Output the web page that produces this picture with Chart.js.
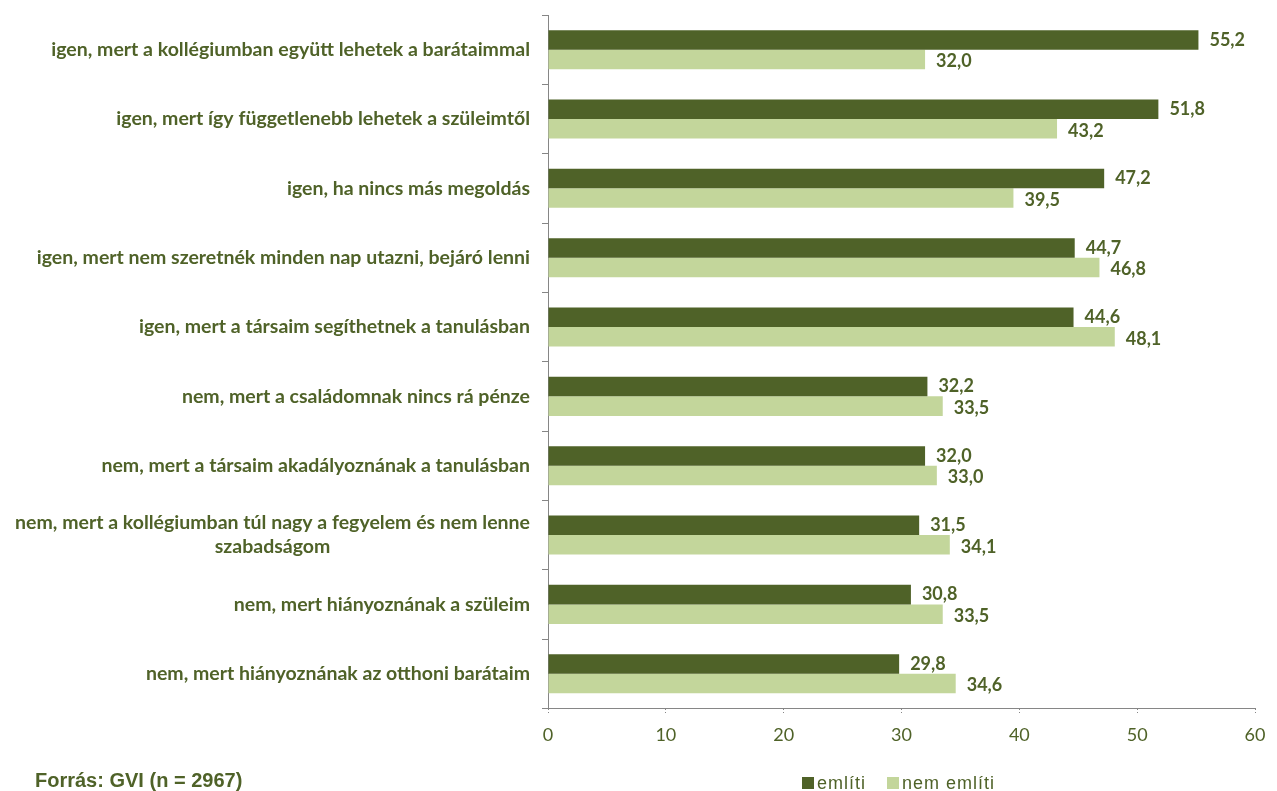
<!DOCTYPE html>
<html>
<head>
<meta charset="utf-8">
<script src="https://cdn.jsdelivr.net/npm/chart.js@4.4.1/dist/chart.umd.min.js"></script>
<style>
  html, body { margin: 0; padding: 0; background: #fff; }
  #wrap { width: 1277px; height: 791px; position: relative; }
</style>
</head>
<body>
<div id="wrap"><canvas id="chart"></canvas></div>
<script>
// ---------- DATA ----------
const categories = [
  ["igen, mert a kollégiumban együtt lehetek a barátaimmal"],
  ["igen, mert így függetlenebb lehetek a szüleimtől"],
  ["igen, ha nincs más megoldás"],
  ["igen, mert nem szeretnék minden nap utazni, bejáró lenni"],
  ["igen, mert a társaim segíthetnek a tanulásban"],
  ["nem, mert a családomnak nincs rá pénze"],
  ["nem, mert a társaim akadályoznának a tanulásban"],
  ["nem, mert a kollégiumban túl nagy a fegyelem és nem lenne", "szabadságom"],
  ["nem, mert hiányoznának a szüleim"],
  ["nem, mert hiányoznának az otthoni barátaim"]
];
const emliti = [55.2, 51.8, 47.2, 44.7, 44.6, 32.2, 32.0, 31.5, 30.8, 29.8];
const nemEmliti = [32.0, 43.2, 39.5, 46.8, 48.1, 33.5, 33.0, 34.1, 33.5, 34.6];
const seriesNames = ["említi", "nem említi"];
const xTicks = [0, 10, 20, 30, 40, 50, 60];
const sourceText = "Forrás: GVI (n = 2967)";

const TXT = "#4f6228";
const DARK = "#4f6228";
const LIGHT = "#c3d69b";
const AXIS = "#868686";

// ---------- PLUGINS ----------
// category labels: right aligned, extra lines centred under the first one
const catLabels = {
  id: "catLabels",
  afterDraw(chart) {
    const ctx = chart.ctx, y = chart.scales.y;
    const right = chart.chartArea.left - 18;
    ctx.save();
    ctx.font = "bold 19.5px Lato";
    ctx.fillStyle = TXT;
    ctx.textBaseline = "middle";
    categories.forEach((lines, i) => {
      const cy = y.getPixelForValue(i);
      const lh = 24;
      const top = cy - (lines.length - 1) * lh / 2;
      const w0 = ctx.measureText(lines[0]).width;
      lines.forEach((ln, k) => {
        if (k === 0) { ctx.textAlign = "right"; ctx.fillText(ln, right, top); }
        else { ctx.textAlign = "center"; ctx.fillText(ln, right - w0 / 2, top + k * lh); }
      });
    });
    ctx.restore();
  }
};

// value labels after the bar ends
const valueLabels = {
  id: "valueLabels",
  afterDatasetsDraw(chart) {
    const ctx = chart.ctx;
    ctx.save();
    ctx.font = "bold 18px Lato";
    ctx.fillStyle = TXT;
    ctx.textAlign = "left";
    ctx.textBaseline = "middle";
    chart.data.datasets.forEach((ds, di) => {
      chart.getDatasetMeta(di).data.forEach((bar, i) => {
        const v = ds.data[i].toFixed(1).replace(".", ",");
        ctx.fillText(v, bar.x + 11, bar.y + (di === 1 ? 2 : 0));
      });
    });
    ctx.restore();
  }
};

// legend (bottom right) and source note (bottom left)
const footer = {
  id: "footer",
  afterDraw(chart) {
    const ctx = chart.ctx;
    ctx.save();
    ctx.font = "bold 20px 'Liberation Sans'";
    ctx.fillStyle = TXT;
    ctx.textAlign = "left";
    ctx.textBaseline = "alphabetic";
    ctx.fillText(sourceText, 35, 787);

    ctx.font = "18px 'Liberation Sans'";
    ctx.letterSpacing = "1px";
    let x = 802;
    chart.data.datasets.forEach(ds => {
      ctx.fillStyle = ds.backgroundColor;
      ctx.fillRect(x, 777, 12, 12);
      ctx.fillStyle = TXT;
      ctx.fillText(ds.label, x + 15, 789);
      x += 15 + ctx.measureText(ds.label).width + 21;
    });
    ctx.restore();
  }
};

// ---------- CHART ----------
new Chart(document.getElementById("chart"), {
  type: "bar",
  data: {
    labels: categories.map(l => l.join(" ")),
    datasets: [
      { label: seriesNames[0], data: emliti, backgroundColor: DARK },
      { label: seriesNames[1], data: nemEmliti, backgroundColor: LIGHT }
    ]
  },
  options: {
    indexAxis: "y",
    responsive: true,
    maintainAspectRatio: false,
    animation: false,
    datasets: { bar: { categoryPercentage: 0.563, barPercentage: 1 } },
    layout: { padding: { left: 542, right: 22, top: 15, bottom: 35 } },
    scales: {
      y: {
        grid: { display: true, drawOnChartArea: false, drawTicks: true, tickLength: 6, offset: true, color: AXIS },
        border: { display: true, color: AXIS, width: 1 },
        ticks: { display: false }
      },
      x: {
        min: 0, max: 60,
        afterBuildTicks: s => { s.ticks = xTicks.map(v => ({ value: v })); },
        grid: { display: true, drawOnChartArea: false, drawTicks: true, tickLength: 6, color: AXIS, tickBorderDash: [1, 2] },
        border: { display: true, color: AXIS, width: 1, dash: [1, 2] },
        ticks: { color: TXT, font: { family: "Lato", size: 18 }, padding: 10 }
      }
    },
    plugins: {
      legend: { display: false },
      tooltip: { enabled: false }
    }
  },
  plugins: [catLabels, valueLabels, footer]
});
</script>
</body>
</html>
